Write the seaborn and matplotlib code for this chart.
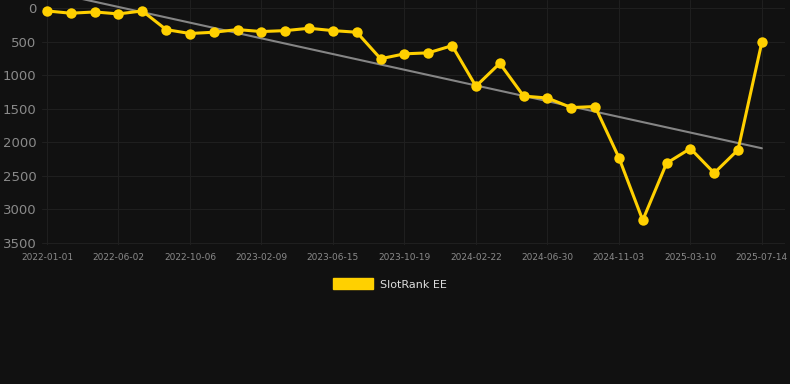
import numpy as np
import pandas as pd
import seaborn as sns
import matplotlib.pyplot as plt
import matplotlib.patches as mpatches

# SlotRank EE position over time (lower is better, axis is inverted)
ranks = [44, 78, 59, 88, 44, 322, 380, 361, 322, 351, 337, 302, 337, 361, 756,
         683, 668, 561, 1166, 824, 1312, 1341, 1483, 1468, 2229, 3161, 2312,
         2093, 2458, 2112, 507]
tick_labels = ["2022-01-01", "2022-06-02", "2022-10-06", "2023-02-09", "2023-06-15",
               "2023-10-19", "2024-02-22", "2024-06-30", "2024-11-03", "2025-03-10",
               "2025-07-14"]
y_ticks = [0, 500, 1000, 1500, 2000, 2500, 3000, 3500]

BG = "#111111"
GOLD = "#FFD000"

data = pd.DataFrame({"idx": np.arange(len(ranks)), "rank": ranks})
slope, intercept = np.polyfit(data["idx"], data["rank"], 1)
data["trend"] = intercept + slope * data["idx"]

sns.set_theme(style="dark")
fig = plt.figure(figsize=(7.9, 3.84), dpi=100, facecolor=BG)
ax = fig.add_axes([42 / 790, 1 - 245 / 384, (785 - 42) / 790, 245 / 384])
ax.set_facecolor(BG)

sns.lineplot(x="idx", y="trend", data=data, ax=ax, color="#858585", linewidth=1.5)
sns.lineplot(x="idx", y="rank", data=data, ax=ax, color=GOLD, linewidth=2.2,
             marker="o", markersize=7.5, markeredgewidth=0)

ax.set_xlim(-0.21, 30.97)
ax.set_ylim(3530, -119)
ax.set_xticks(np.arange(0, len(ranks), 3))
ax.set_xticklabels(tick_labels)
ax.set_yticks(y_ticks)
ax.tick_params(axis="x", labelsize=6.5, colors="#8a8a8a", length=0, pad=6)
ax.tick_params(axis="y", labelsize=9.5, colors="#8a8a8a", length=0, pad=4)
ax.grid(True, color="#1f1f1f", linewidth=0.8)
ax.set_xlabel("")
ax.set_ylabel("")
for spine in ax.spines.values():
    spine.set_visible(False)

handle = mpatches.Patch(color=GOLD, label="SlotRank EE")
fig.legend(handles=[handle], loc="center", bbox_to_anchor=(390 / 790, 1 - 284 / 384),
           frameon=False, fontsize=8, labelcolor="#dddddd",
           handlelength=3.6, handleheight=1.1, handletextpad=0.6)

fig.savefig("out.png", dpi=100, facecolor=BG)
